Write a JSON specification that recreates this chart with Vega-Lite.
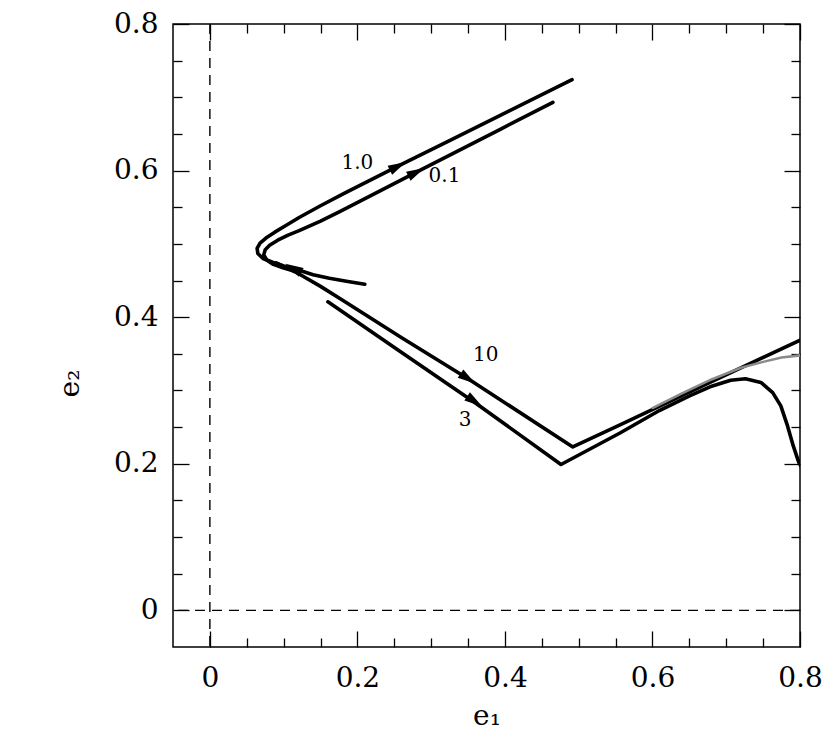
{
  "$schema": "https://vega.github.io/schema/vega-lite/v6.json",
  "width": 627,
  "height": 623,
  "autosize": {"type": "none"},
  "padding": {"left": 173, "top": 24, "right": 30, "bottom": 90},
  "background": "white",
  "config": {
    "view": {"stroke": "black", "strokeWidth": 1.5},
    "font": "DejaVu Serif",
    "axis": {
      "domain": false,
      "grid": false,
      "labelFont": "DejaVu Serif",
      "labelFontSize": 28,
      "labelColor": "black",
      "titleFont": "DejaVu Serif",
      "titleFontSize": 28,
      "titleFontWeight": "normal",
      "titleColor": "black",
      "tickColor": "black",
      "tickWidth": 1.3,
      "labelOverlap": false,
      "labelFlush": false
    }
  },
  "datasets": {
    "curves": [
      {"series": "1.0", "i": 0, "e1": 0.210, "e2": 0.445},
      {"series": "1.0", "i": 1, "e1": 0.185, "e2": 0.449},
      {"series": "1.0", "i": 2, "e1": 0.162, "e2": 0.453},
      {"series": "1.0", "i": 3, "e1": 0.140, "e2": 0.458},
      {"series": "1.0", "i": 4, "e1": 0.121, "e2": 0.464},
      {"series": "1.0", "i": 5, "e1": 0.100, "e2": 0.470},
      {"series": "1.0", "i": 6, "e1": 0.085, "e2": 0.475},
      {"series": "1.0", "i": 7, "e1": 0.072, "e2": 0.480},
      {"series": "1.0", "i": 8, "e1": 0.065, "e2": 0.487},
      {"series": "1.0", "i": 9, "e1": 0.064, "e2": 0.494},
      {"series": "1.0", "i": 10, "e1": 0.068, "e2": 0.501},
      {"series": "1.0", "i": 11, "e1": 0.076, "e2": 0.508},
      {"series": "1.0", "i": 12, "e1": 0.088, "e2": 0.516},
      {"series": "1.0", "i": 13, "e1": 0.103, "e2": 0.525},
      {"series": "1.0", "i": 14, "e1": 0.121, "e2": 0.536},
      {"series": "1.0", "i": 15, "e1": 0.150, "e2": 0.552},
      {"series": "1.0", "i": 16, "e1": 0.182, "e2": 0.569},
      {"series": "1.0", "i": 17, "e1": 0.257, "e2": 0.607},
      {"series": "1.0", "i": 18, "e1": 0.329, "e2": 0.643},
      {"series": "1.0", "i": 19, "e1": 0.393, "e2": 0.675},
      {"series": "1.0", "i": 20, "e1": 0.491, "e2": 0.724},
      {"series": "0.1", "i": 0, "e1": 0.118, "e2": 0.462},
      {"series": "0.1", "i": 1, "e1": 0.100, "e2": 0.467},
      {"series": "0.1", "i": 2, "e1": 0.086, "e2": 0.472},
      {"series": "0.1", "i": 3, "e1": 0.077, "e2": 0.478},
      {"series": "0.1", "i": 4, "e1": 0.073, "e2": 0.485},
      {"series": "0.1", "i": 5, "e1": 0.075, "e2": 0.492},
      {"series": "0.1", "i": 6, "e1": 0.081, "e2": 0.498},
      {"series": "0.1", "i": 7, "e1": 0.092, "e2": 0.505},
      {"series": "0.1", "i": 8, "e1": 0.106, "e2": 0.512},
      {"series": "0.1", "i": 9, "e1": 0.121, "e2": 0.518},
      {"series": "0.1", "i": 10, "e1": 0.150, "e2": 0.531},
      {"series": "0.1", "i": 11, "e1": 0.176, "e2": 0.544},
      {"series": "0.1", "i": 12, "e1": 0.234, "e2": 0.574},
      {"series": "0.1", "i": 13, "e1": 0.284, "e2": 0.600},
      {"series": "0.1", "i": 14, "e1": 0.393, "e2": 0.656},
      {"series": "0.1", "i": 15, "e1": 0.465, "e2": 0.693},
      {"series": "10", "i": 0, "e1": 0.090, "e2": 0.474},
      {"series": "10", "i": 1, "e1": 0.121, "e2": 0.459},
      {"series": "10", "i": 2, "e1": 0.150, "e2": 0.442},
      {"series": "10", "i": 3, "e1": 0.180, "e2": 0.423},
      {"series": "10", "i": 4, "e1": 0.260, "e2": 0.372},
      {"series": "10", "i": 5, "e1": 0.350, "e2": 0.316},
      {"series": "10", "i": 6, "e1": 0.492, "e2": 0.223},
      {"series": "10", "i": 7, "e1": 0.556, "e2": 0.253},
      {"series": "10", "i": 8, "e1": 0.665, "e2": 0.305},
      {"series": "10", "i": 9, "e1": 0.801, "e2": 0.369},
      {"series": "3", "i": 0, "e1": 0.160, "e2": 0.421},
      {"series": "3", "i": 1, "e1": 0.257, "e2": 0.354},
      {"series": "3", "i": 2, "e1": 0.360, "e2": 0.283},
      {"series": "3", "i": 3, "e1": 0.476, "e2": 0.199},
      {"series": "3", "i": 4, "e1": 0.556, "e2": 0.242},
      {"series": "3", "i": 5, "e1": 0.610, "e2": 0.273},
      {"series": "3", "i": 6, "e1": 0.651, "e2": 0.293},
      {"series": "3", "i": 7, "e1": 0.678, "e2": 0.305},
      {"series": "3", "i": 8, "e1": 0.706, "e2": 0.314},
      {"series": "3", "i": 9, "e1": 0.726, "e2": 0.316},
      {"series": "3", "i": 10, "e1": 0.747, "e2": 0.311},
      {"series": "3", "i": 11, "e1": 0.763, "e2": 0.297},
      {"series": "3", "i": 12, "e1": 0.774, "e2": 0.279},
      {"series": "3", "i": 13, "e1": 0.783, "e2": 0.252},
      {"series": "3", "i": 14, "e1": 0.791, "e2": 0.224},
      {"series": "3", "i": 15, "e1": 0.798, "e2": 0.203},
      {"series": "3", "i": 16, "e1": 0.801, "e2": 0.197}
    ],
    "gray": [
      {"series": "tidal", "i": 0, "e1": 0.600, "e2": 0.276},
      {"series": "tidal", "i": 1, "e1": 0.640, "e2": 0.296},
      {"series": "tidal", "i": 2, "e1": 0.680, "e2": 0.315},
      {"series": "tidal", "i": 3, "e1": 0.720, "e2": 0.331},
      {"series": "tidal", "i": 4, "e1": 0.750, "e2": 0.339},
      {"series": "tidal", "i": 5, "e1": 0.775, "e2": 0.345},
      {"series": "tidal", "i": 6, "e1": 0.801, "e2": 0.348}
    ],
    "arrows": [
      {"series": "1.0", "heading": "up-right", "e1": 0.255, "e2": 0.606},
      {"series": "0.1", "heading": "up-right", "e1": 0.280, "e2": 0.598},
      {"series": "10", "heading": "down-right", "e1": 0.350, "e2": 0.316},
      {"series": "3", "heading": "down-right", "e1": 0.359, "e2": 0.285},
      {"series": "1.0", "heading": "up-left", "e1": 0.113, "e2": 0.467}
    ],
    "labels": [
      {"text": "1.0", "e1": 0.200, "e2": 0.611},
      {"text": "0.1", "e1": 0.318, "e2": 0.592},
      {"text": "10", "e1": 0.374, "e2": 0.348},
      {"text": "3", "e1": 0.346, "e2": 0.260}
    ],
    "zero": [{"e": 0}]
  },
  "layer": [
    {
      "data": {"name": "zero"},
      "mark": {"type": "rule", "color": "black", "strokeWidth": 1.4, "strokeDash": [10, 7]},
      "encoding": {
        "x": {"field": "e", "type": "quantitative", "axis": null}
      }
    },
    {
      "data": {"name": "zero"},
      "mark": {"type": "rule", "color": "black", "strokeWidth": 1.4, "strokeDash": [10, 7]},
      "encoding": {
        "y": {"field": "e", "type": "quantitative", "axis": null}
      }
    },
    {
      "data": {"name": "curves"},
      "mark": {"type": "line", "color": "black", "strokeWidth": 3.6, "clip": true, "strokeJoin": "round", "strokeCap": "round"},
      "encoding": {
        "x": {
          "field": "e1", "type": "quantitative",
          "scale": {"domain": [-0.05, 0.8], "nice": false, "zero": false},
          "axis": {
            "orient": "bottom",
            "values": [0, 0.05, 0.1, 0.15, 0.2, 0.25, 0.3, 0.35, 0.4, 0.45, 0.5, 0.55, 0.6, 0.65, 0.7, 0.75, 0.8],
            "tickSize": {"condition": {"test": "abs(datum.value*5 - round(datum.value*5)) < 0.001", "value": -16}, "value": -9},
            "labelExpr": "abs(datum.value*5 - round(datum.value*5)) < 0.001 ? format(datum.value, '.1~f') : ''",
            "labelPadding": 33,
            "title": "e₁",
            "titleBaseline": "alphabetic",
            "titleY": 77
          }
        },
        "y": {
          "field": "e2", "type": "quantitative",
          "scale": {"domain": [-0.05, 0.8], "nice": false, "zero": false},
          "axis": {
            "orient": "left",
            "values": [0, 0.05, 0.1, 0.15, 0.2, 0.25, 0.3, 0.35, 0.4, 0.45, 0.5, 0.55, 0.6, 0.65, 0.7, 0.75, 0.8],
            "tickSize": {"condition": {"test": "abs(datum.value*5 - round(datum.value*5)) < 0.001", "value": -16}, "value": -9},
            "labelExpr": "abs(datum.value*5 - round(datum.value*5)) < 0.001 ? format(datum.value, '.1~f') : ''",
            "labelPadding": 31,
            "title": "e₂",
            "titleX": -89,
            "titleY": 359
          }
        },
        "detail": {"field": "series"},
        "order": {"field": "i", "type": "quantitative"}
      }
    },
    {
      "data": {"name": "gray"},
      "mark": {"type": "line", "color": "#8a8a8a", "strokeWidth": 2.5, "clip": true, "strokeCap": "round"},
      "encoding": {
        "x": {
          "field": "e1", "type": "quantitative",
          "axis": {
            "orient": "top",
            "values": [0, 0.05, 0.1, 0.15, 0.2, 0.25, 0.3, 0.35, 0.4, 0.45, 0.5, 0.55, 0.6, 0.65, 0.7, 0.75, 0.8],
            "tickSize": {"condition": {"test": "abs(datum.value*5 - round(datum.value*5)) < 0.001", "value": -16}, "value": -9},
            "labels": false,
            "title": null
          }
        },
        "y": {
          "field": "e2", "type": "quantitative",
          "axis": {
            "orient": "right",
            "values": [0, 0.05, 0.1, 0.15, 0.2, 0.25, 0.3, 0.35, 0.4, 0.45, 0.5, 0.55, 0.6, 0.65, 0.7, 0.75, 0.8],
            "tickSize": {"condition": {"test": "abs(datum.value*5 - round(datum.value*5)) < 0.001", "value": -16}, "value": -9},
            "labels": false,
            "title": null
          }
        },
        "order": {"field": "i", "type": "quantitative"}
      }
    },
    {
      "data": {"name": "arrows"},
      "transform": [{"filter": "datum.heading == 'up-right'"}],
      "mark": {"type": "point", "shape": "M0,-1L0.55,1L-0.55,1Z", "filled": true, "color": "black", "opacity": 1, "size": 330, "angle": 63},
      "encoding": {
        "x": {"field": "e1", "type": "quantitative", "axis": null},
        "y": {"field": "e2", "type": "quantitative", "axis": null}
      }
    },
    {
      "data": {"name": "arrows"},
      "transform": [{"filter": "datum.heading == 'down-right'"}],
      "mark": {"type": "point", "shape": "M0,-1L0.55,1L-0.55,1Z", "filled": true, "color": "black", "opacity": 1, "size": 330, "angle": 124},
      "encoding": {
        "x": {"field": "e1", "type": "quantitative", "axis": null},
        "y": {"field": "e2", "type": "quantitative", "axis": null}
      }
    },
    {
      "data": {"name": "arrows"},
      "transform": [{"filter": "datum.heading == 'up-left'"}],
      "mark": {"type": "point", "shape": "M0,-1L0.55,1L-0.55,1Z", "filled": true, "color": "black", "opacity": 1, "size": 330, "angle": 299},
      "encoding": {
        "x": {"field": "e1", "type": "quantitative", "axis": null},
        "y": {"field": "e2", "type": "quantitative", "axis": null}
      }
    },
    {
      "data": {"name": "labels"},
      "mark": {"type": "text", "font": "DejaVu Serif", "fontSize": 20, "color": "black", "align": "center", "baseline": "middle"},
      "encoding": {
        "x": {"field": "e1", "type": "quantitative", "axis": null},
        "y": {"field": "e2", "type": "quantitative", "axis": null},
        "text": {"field": "text"}
      }
    }
  ],
  "resolve": {"axis": {"x": "independent", "y": "independent"}}
}
